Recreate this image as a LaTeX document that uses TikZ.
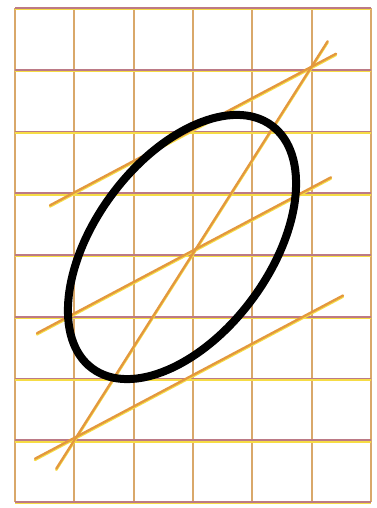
\documentclass[tikz,border=0pt]{standalone}
\usetikzlibrary{calc}
\definecolor{gridv}{HTML}{D9A86A}
\definecolor{gridh}{HTML}{BC7A86}
\definecolor{halo}{HTML}{F6DC45}
\definecolor{cons}{HTML}{E3983E}
\begin{document}
\begin{tikzpicture}[x=1pt,y=1pt,
  vline/.style={gridv, line width=1.7pt},
  hline/.style={gridh, line width=1.8pt},
  hhalo/.style={halo, line width=1.4pt},
  consline/.style={cons, line width=2.3pt, line cap=round},
  conshalo/.style={halo, line width=2.3pt, line cap=round, transform canvas={yshift=-1.3pt}},
  oval/.style={black, line width=8pt}]
\useasboundingbox[fill=white] (0,0) rectangle (376,508);
% grid
\foreach \i in {0,...,6} { \draw[vline] ({15+59.333*\i},6) -- ({15+59.333*\i},500); }
\foreach \j in {0,...,8} {
  \draw[hhalo] (15,{500-61.75*\j-1.7}) -- (371,{500-61.75*\j-1.7});
  \draw[hline] (15,{500-61.75*\j}) -- (371,{500-61.75*\j});
}
% construction points
\coordinate (P) at (311,441);
\coordinate (C) at (192,257);
\coordinate (Q) at (76,71);
\coordinate (D1) at ($(C)!1.14!(P)$);
\coordinate (D2) at ($(C)!1.17!(Q)$);
\coordinate (U1) at ($(P)+(-261,-138.3)$);
\coordinate (U2) at ($(P)+(25,13.25)$);
\coordinate (M1) at ($(C)+(-155,-82.2)$);
\coordinate (M2) at ($(C)+(139,73.7)$);
\coordinate (L1) at ($(Q)+(-41,-21.7)$);
\coordinate (L2) at ($(Q)+(267,141.5)$);
% halos
\draw[conshalo] (D2) -- (D1);
\draw[conshalo] (U1) -- (U2);
\draw[conshalo] (M1) -- (M2);
\draw[conshalo] (L1) -- (L2);
% lines
\draw[consline] (D2) -- (D1);
\draw[consline] (U1) -- (U2);
\draw[consline] (M1) -- (M2);
\draw[consline] (L1) -- (L2);
% ellipse
\coordinate (E) at (182,261);
\draw[oval, rotate around={53.5:(E)}] (E) ellipse [x radius=151pt, y radius=87.5pt];
\end{tikzpicture}
\end{document}
